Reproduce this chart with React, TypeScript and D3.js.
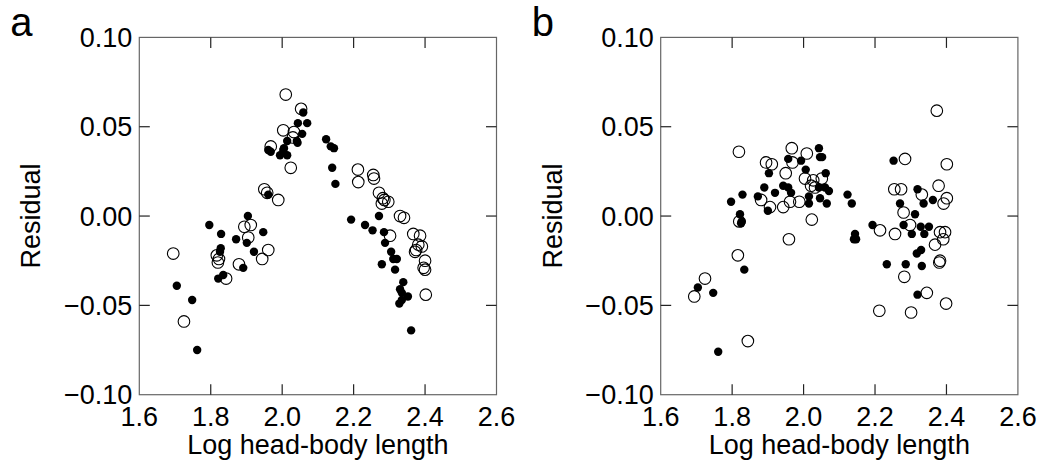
import React from "react";
import * as d3 from "d3";

type P = [number, number];

const xTicks = [1.6, 1.8, 2.0, 2.2, 2.4, 2.6];
const yTicks = [-0.1, -0.05, 0, 0.05, 0.1];
const xTitle = "Log head-body length";
const yTitle = "Residual";

const aFilled: P[] = [
  [2.059, 0.058], [2.044, 0.052], [2.070, 0.052], [2.056, 0.046], [2.041, 0.042], [2.014, 0.042],
  [2.043, 0.041], [2.005, 0.038], [1.961, 0.037], [1.968, 0.036], [2.003, 0.037], [1.994, 0.034],
  [2.014, 0.034], [1.961, 0.012], [2.123, 0.043], [2.136, 0.039], [2.145, 0.038], [2.140, 0.027],
  [2.149, 0.018], [1.904, 0.000], [1.796, -0.005], [1.829, -0.010], [1.947, -0.009], [1.871, -0.013],
  [1.901, -0.015], [1.828, -0.018], [1.826, -0.020], [1.921, -0.020], [1.891, -0.029], [1.835, -0.033],
  [1.821, -0.035], [1.705, -0.039], [1.748, -0.047], [1.762, -0.075],
  [2.271, 0.000], [2.193, -0.002], [2.232, -0.005], [2.253, -0.008], [2.285, -0.009], [2.288, -0.015],
  [2.305, -0.020], [2.311, -0.024], [2.321, -0.024], [2.279, -0.027], [2.316, -0.030], [2.339, -0.037],
  [2.330, -0.041], [2.335, -0.043], [2.352, -0.045], [2.328, -0.049], [2.335, -0.047], [2.361, -0.064],
];

const aOpen: P[] = [
  [2.010, 0.068], [2.053, 0.060], [2.003, 0.048], [2.033, 0.047], [2.030, 0.044], [1.968, 0.039],
  [2.024, 0.027], [1.950, 0.015], [1.958, 0.013], [1.989, 0.009], [1.894, -0.006], [1.912, -0.005],
  [1.905, -0.012], [1.817, -0.022], [1.823, -0.024], [1.820, -0.026], [1.961, -0.019], [1.944, -0.024],
  [1.879, -0.027], [1.843, -0.035], [1.695, -0.021], [1.725, -0.059],
  [2.212, 0.026], [2.213, 0.019], [2.255, 0.023], [2.257, 0.021], [2.271, 0.013], [2.282, 0.010],
  [2.286, 0.009], [2.297, 0.008], [2.279, 0.007], [2.330, 0.000], [2.341, -0.001], [2.302, -0.011],
  [2.367, -0.010], [2.386, -0.011], [2.381, -0.016], [2.391, -0.017], [2.375, -0.019], [2.372, -0.020],
  [2.400, -0.025], [2.396, -0.029], [2.400, -0.030], [2.402, -0.044],
];

const bFilled: P[] = [
  [2.043, 0.038], [2.046, 0.033], [2.052, 0.033], [1.957, 0.032], [1.993, 0.031], [2.252, 0.031],
  [1.903, 0.024], [2.006, 0.026], [2.062, 0.024], [1.943, 0.017], [1.957, 0.016], [1.965, 0.013],
  [2.043, 0.016], [2.060, 0.016], [2.071, 0.014], [1.890, 0.016], [1.920, 0.013], [1.872, 0.011],
  [1.829, 0.012], [1.797, 0.008], [2.015, 0.011], [2.015, 0.007], [2.046, 0.010], [2.065, 0.007],
  [1.900, 0.003], [2.123, 0.012], [2.135, 0.007], [2.319, 0.015], [2.362, 0.009], [2.336, 0.007],
  [2.270, 0.007], [2.312, 0.001], [1.822, 0.001], [1.827, -0.003], [1.825, -0.004], [1.834, -0.030],
  [1.704, -0.040], [1.747, -0.043], [1.761, -0.076], [2.193, -0.005], [2.144, -0.010], [2.141, -0.013],
  [2.147, -0.013], [2.280, -0.005], [2.303, -0.010], [2.328, -0.006], [2.351, -0.006], [2.338, -0.010],
  [2.317, -0.021], [2.329, -0.019], [2.233, -0.027], [2.286, -0.027], [2.331, -0.028], [2.319, -0.044],
];

const bOpen: P[] = [
  [2.373, 0.059], [1.819, 0.036], [1.967, 0.038], [2.009, 0.035], [1.895, 0.030], [1.911, 0.029],
  [1.969, 0.030], [2.284, 0.032], [2.401, 0.029], [1.950, 0.024], [2.004, 0.021], [2.027, 0.020],
  [2.021, 0.017], [2.051, 0.021], [2.032, 0.016], [1.881, 0.009], [1.906, 0.005], [1.943, 0.005],
  [1.962, 0.008], [1.988, 0.008], [2.023, -0.002], [2.254, 0.015], [2.273, 0.015], [2.331, 0.012],
  [2.378, 0.017], [2.401, 0.010], [2.392, 0.007], [2.280, 0.002], [1.820, -0.003], [1.959, -0.013],
  [1.816, -0.022], [1.724, -0.035], [1.694, -0.045], [1.844, -0.070], [2.214, -0.008], [2.256, -0.010],
  [2.298, -0.005], [2.382, -0.009], [2.396, -0.009], [2.391, -0.013], [2.368, -0.016], [2.382, -0.025],
  [2.380, -0.026], [2.282, -0.034], [2.345, -0.043], [2.399, -0.049], [2.212, -0.053], [2.301, -0.054],
];

const FONT = "Liberation Sans, Arial, Helvetica, sans-serif";

function Panel({ left, letter, filled, open }: { left: number; letter: string; filled: P[]; open: P[] }) {
  const W = 357.2;
  const top = 37.4;
  const H = 357.3;
  const x = d3.scaleLinear().domain([1.6, 2.6]).range([left, left + W]);
  const y = d3.scaleLinear().domain([-0.1, 0.1]).range([top + H, top]);
  const tl = 10.5;
  const fmtY = (v: number) => (Math.abs(v) < 1e-9 ? "0.00" : d3.format(".2f")(v));
  return (
    <g>
      <text x={left - 129} y={36} fontSize={40} fontFamily={FONT} fill="#000">{letter}</text>
      <rect x={left} y={top} width={W} height={H} fill="none" stroke="#666" strokeWidth={1.2} />
      {xTicks.slice(1, -1).map((t) => (
        <g key={"xt" + t}>
          <line x1={x(t)} x2={x(t)} y1={top + H} y2={top + H - tl} stroke="#222" strokeWidth={1.2} />
          <line x1={x(t)} x2={x(t)} y1={top} y2={top + tl} stroke="#222" strokeWidth={1.2} />
        </g>
      ))}
      {yTicks.slice(1, -1).map((t) => (
        <g key={"yt" + t}>
          <line x1={left} x2={left + tl} y1={y(t)} y2={y(t)} stroke="#222" strokeWidth={1.2} />
          <line x1={left + W} x2={left + W - tl} y1={y(t)} y2={y(t)} stroke="#222" strokeWidth={1.2} />
        </g>
      ))}
      {xTicks.map((t) => (
        <text key={"xl" + t} x={x(t)} y={426} textAnchor="middle" fontSize={27} fontFamily={FONT} fill="#000">
          {t.toFixed(1)}
        </text>
      ))}
      {yTicks.map((t) => (
        <text key={"yl" + t} x={left - 7} y={y(t)} dy="0.36em" textAnchor="end" fontSize={27} fontFamily={FONT} fill="#000">
          {fmtY(t)}
        </text>
      ))}
      <text x={left + W / 2} y={454} textAnchor="middle" fontSize={27} fontFamily={FONT} fill="#000">{xTitle}</text>
      <text
        transform={`translate(${left - 99},${top + H / 2}) rotate(-90)`}
        textAnchor="middle"
        fontSize={27}
        fontFamily={FONT}
        fill="#000"
      >
        {yTitle}
      </text>
      {open.map((d, i) => (
        <circle key={"o" + i} cx={x(d[0])} cy={y(d[1])} r={5.8} fill="none" stroke="#000" strokeWidth={1.1} />
      ))}
      {filled.map((d, i) => (
        <circle key={"f" + i} cx={x(d[0])} cy={y(d[1])} r={4.2} fill="#000" />
      ))}
    </g>
  );
}

export default function App() {
  return (
    <svg width={1041} height={463} style={{ position: "absolute", left: 0, top: 0, background: "#fff" }}>
      <rect x={0} y={0} width={1041} height={463} fill="#fff" />
      <Panel left={139.3} letter="a" filled={aFilled} open={aOpen} />
      <Panel left={660.7} letter="b" filled={bFilled} open={bOpen} />
    </svg>
  );
}
